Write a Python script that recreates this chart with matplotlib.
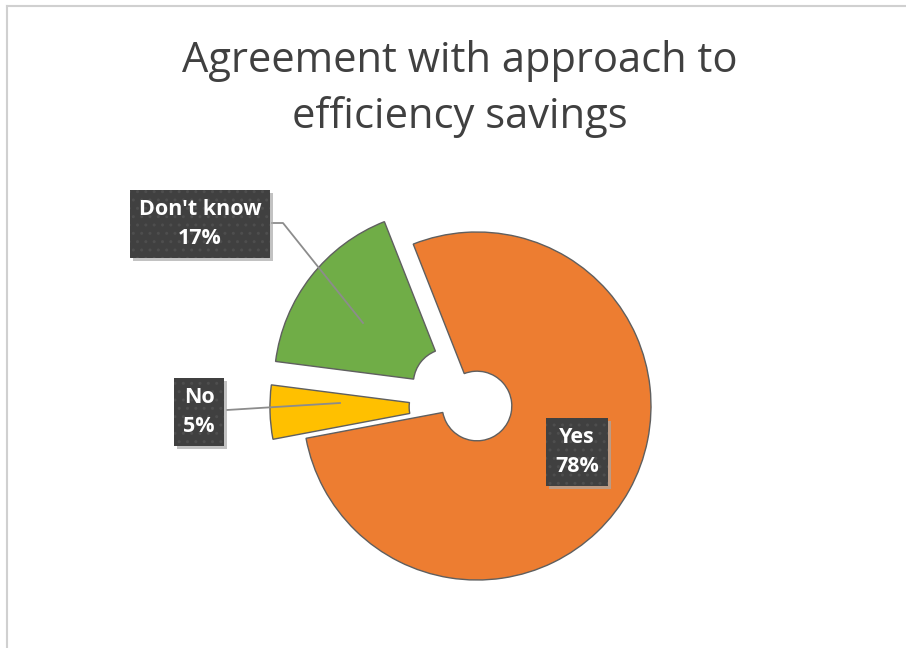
import matplotlib.pyplot as plt
from matplotlib.lines import Line2D
from matplotlib.patches import Rectangle

labels = ["Yes", "No", "Don't know"]
shares = [78, 5, 17]
colors = ["#ED7D31", "#FFC000", "#70AD47"]
explode = [0.0, 0.19, 0.21]

title = "Agreement with approach to\nefficiency savings"

# pixel geometry of the reference
W, H = 906, 648
cx, cy, R = 477, 406, 174


def to_data(px, py):
    return (px - cx) / R, (cy - py) / R


def main():
    fig = plt.figure(figsize=(W / 100, H / 100), dpi=100)
    ax = fig.add_axes([0, 0, 1, 1])

    ax.pie(
        shares,
        colors=colors,
        explode=explode,
        startangle=111.5,
        counterclock=False,
        radius=1.0,
        wedgeprops=dict(width=0.8, edgecolor="#5f5f5f", linewidth=1.0),
    )

    ax.set_xlim(-cx / R, (W - cx) / R)
    ax.set_ylim(-(H - cy) / R, cy / R)
    ax.axis("off")

    fig.text(
        0.508, 1 - 89 / H, title,
        ha="center", va="center",
        fontsize=30, color="#404040",
        family="Open Sans", fontweight="normal",
        linespacing=1.42,
    )

    # label boxes: (text, box centre px, leader points px)
    boxes = [
        ("Don't know\n17%", (200, 224), [(272, 223), (283, 223), (363, 323)]),
        ("No\n5%", (199, 412), [(227, 410), (340, 403)]),
        ("Yes\n78%", (577, 452), None),
    ]

    texts = []
    for txt, (bx, by), leader in boxes:
        if leader is not None:
            pts = [to_data(x, y) for x, y in leader]
            ax.add_line(Line2D(
                [p[0] for p in pts], [p[1] for p in pts],
                color="#8c8c8c", linewidth=1.3, zorder=3,
            ))

        x, y = to_data(bx, by)
        t = ax.text(
            x, y, txt, color="white", zorder=5,
            ha="center", va="center",
            fontsize=15.5, fontweight="bold",
            family="Open Sans", linespacing=1.55,
            bbox=dict(boxstyle="square,pad=0.42", facecolor="#404040",
                      edgecolor="#4e4e4e", linewidth=0, hatch=".."),
        )
        texts.append(t)

    # drop shadows behind the label boxes
    fig.canvas.draw()
    for t in texts:
        ext = t.get_bbox_patch().get_window_extent()
        ax.add_patch(Rectangle(
            (ext.x0 + 3, ext.y0 - 3), ext.width, ext.height,
            transform=None, facecolor="#a8a8a8", edgecolor="none",
            alpha=0.7, zorder=4,
        ))

    # chart-area border
    fig.add_artist(Line2D([7 / W, 7 / W], [0, 1 - 6 / H], color="#d0d0d0", linewidth=1.5))
    fig.add_artist(Line2D([7 / W, 1], [1 - 6 / H, 1 - 6 / H], color="#d0d0d0", linewidth=1.5))

    fig.savefig("out.png", dpi=100)


if __name__ == "__main__":
    main()
